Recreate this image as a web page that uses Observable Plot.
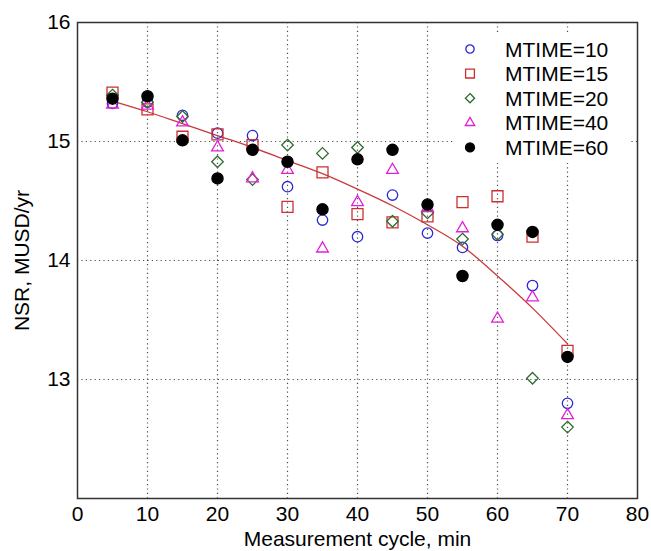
<!DOCTYPE html>
<html>
<head>
<meta charset="utf-8">
<script src="https://cdn.jsdelivr.net/npm/d3@7"></script>
<script src="https://cdn.jsdelivr.net/npm/@observablehq/plot@0.6"></script>
<style>
  body { margin: 0; background: #fff; }
  #wrap { position: relative; width: 651px; height: 551px; font-family: "Liberation Sans", Arial, sans-serif; }
  #legend { position: absolute; left: 455px; top: 35px; width: 174px; height: 128px; background: #fff; }
  #legend text { font-family: "Liberation Sans", Arial, sans-serif; font-size: 21px; fill: #000; }
</style>
</head>
<body>
<div id="wrap"><div id="legend"></div></div>
<script>
const cycles = [5, 10, 15, 20, 25, 30, 35, 40, 45, 50, 55, 60, 65, 70];
const mt10 = [15.32, 15.33, 15.22, 15.07, 15.05, 14.62, 14.34, 14.20, 14.55, 14.23, 14.11, 14.21, 13.79, 12.80];
const mt15 = [15.41, 15.27, 15.04, 15.06, 14.97, 14.45, 14.74, 14.39, 14.32, 14.37, 14.49, 14.54, 14.20, 13.24];
const mt20 = [15.39, 15.33, 15.21, 14.83, 14.68, 14.97, 14.90, 14.95, 14.33, 14.40, 14.18, 14.22, 13.01, 12.60];
const mt40 = [15.31, 15.30, 15.16, 14.95, 14.69, 14.76, 14.10, 14.49, 14.76, 14.44, 14.27, 13.51, 13.69, 12.70];
const mt60 = [15.36, 15.38, 15.01, 14.69, 14.93, 14.83, 14.43, 14.85, 14.93, 14.47, 13.87, 14.30, 14.24, 13.19];
const fitLine = [15.34, 15.25, 15.15, 15.05, 14.95, 14.84, 14.73, 14.60, 14.46, 14.30, 14.12, 13.87, 13.60, 13.30];
const seriesNames = ["MTIME=10", "MTIME=15", "MTIME=20", "MTIME=40", "MTIME=60"];
const xTicks = [0, 10, 20, 30, 40, 50, 60, 70, 80];
const yTicks = [13, 14, 15, 16];
const gridX = [10, 20, 30, 40, 50, 60, 70];
const gridY = [13, 14, 15];

const seriesValues = [mt10, mt15, mt20, mt40, mt60];
const styles = [
  {symbol: "circle", stroke: "#2a2ad0", fill: "none", r: 5.2},
  {symbol: "square", stroke: "#cc2f2f", fill: "none", r: 6.2},
  {symbol: "diamond2", stroke: "#2e6b2e", fill: "none", r: 5.2},
  {symbol: "triangle2", stroke: "#e020d8", fill: "none", r: 5.6},
  {symbol: "circle", stroke: "#000", fill: "#000", r: 5.6}
];

const fitData = cycles.map((c, i) => ({x: c, y: fitLine[i]}));

const marks = [
  Plot.gridX(gridX, {stroke: "#000", strokeOpacity: 0.7, strokeDasharray: "1.2,3.2", strokeWidth: 1.2}),
  Plot.gridY(gridY, {stroke: "#000", strokeOpacity: 0.7, strokeDasharray: "1.2,3.2", strokeWidth: 1.2}),
  Plot.line(fitData, {x: "x", y: "y", stroke: "#c83a3a", strokeWidth: 1.3, curve: "monotone-x"})
];
seriesValues.forEach((vals, k) => {
  const data = cycles.map((c, i) => ({x: c, y: vals[i]}));
  const s = styles[k];
  marks.push(Plot.dot(data, {x: "x", y: "y", symbol: () => s.symbol, r: s.r, stroke: s.stroke, fill: s.fill, strokeWidth: 1.3}));
});
marks.push(
  Plot.axisX({ticks: xTicks, tickSize: 0, tickPadding: 8, tickFormat: d3.format("d"), label: "Measurement cycle, min", labelAnchor: "center", labelArrow: "none", labelOffset: 47}),
  Plot.axisY({ticks: yTicks, tickSize: 0, tickPadding: 7, tickFormat: d3.format("d"), label: "NSR, MUSD/yr", labelAnchor: "center", labelArrow: "none", labelOffset: 63}),
  Plot.frame({stroke: "#333", strokeWidth: 1.5})
);

const chart = Plot.plot({
  width: 651, height: 551,
  marginLeft: 77, marginRight: 14, marginTop: 22, marginBottom: 53,
  x: {domain: [0, 80]},
  y: {domain: [12, 16]},
  style: {fontSize: "21px", fontFamily: "'Liberation Sans', Arial, sans-serif", color: "#000", background: "#fff", overflow: "visible"},
  marks
});
const wrap = document.getElementById("wrap");
wrap.insertBefore(chart, wrap.firstChild);

// legend
const symMap = {circle: d3.symbolCircle, square: d3.symbolSquare, diamond2: d3.symbolDiamond2, triangle2: d3.symbolTriangle2};
const leg = d3.select("#legend").append("svg").attr("width", 174).attr("height", 128);
seriesNames.forEach((name, k) => {
  const s = styles[k];
  const cy = 14 + k * 24.6;
  leg.append("path")
    .attr("d", d3.symbol(symMap[s.symbol], (s.r * 0.8) ** 2 * Math.PI)())
    .attr("transform", `translate(15,${cy})`)
    .attr("fill", s.fill).attr("stroke", s.stroke).attr("stroke-width", 1.3);
  leg.append("text").attr("x", 50).attr("y", cy).attr("dy", "0.36em").text(name);
});
</script>
</body>
</html>
